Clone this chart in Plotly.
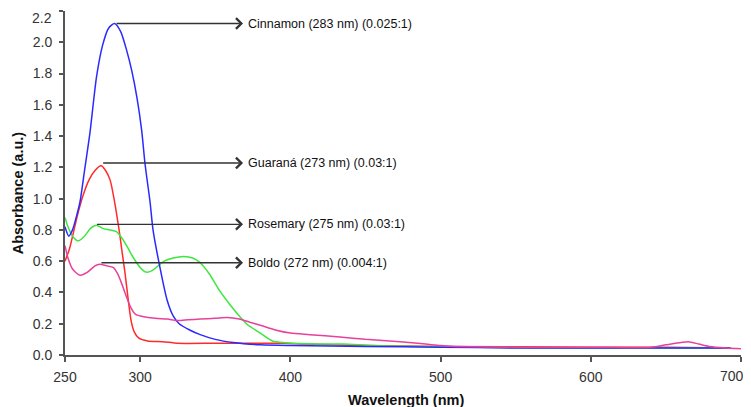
import plotly.graph_objects as go

# ---- data ----
cin_x = [250, 252.5, 255, 258, 260, 263, 266.6, 271, 275, 279, 283, 287, 291, 294.4, 298, 301, 303.3,
         306.6, 308.6, 313, 318, 322, 326, 333, 340, 350, 362, 380, 400, 450, 500, 550, 600, 650, 693]
cin_y = [0.82, 0.76, 0.80, 0.90, 0.98, 1.18, 1.42, 1.78, 1.98, 2.09, 2.12, 2.07, 1.95, 1.82, 1.64, 1.44, 1.22,
         0.98, 0.80, 0.57, 0.35, 0.25, 0.20, 0.16, 0.13, 0.10, 0.08, 0.065, 0.06, 0.055, 0.05, 0.045, 0.045, 0.045, 0.045]

gua_x = [250, 253, 256, 259, 262, 266, 270, 274, 277, 280, 283, 286, 288, 290, 292, 294, 296, 299, 305,
         315, 325, 350, 395, 410, 450, 500, 600, 650, 693]
gua_y = [0.60, 0.68, 0.80, 0.92, 1.02, 1.12, 1.18, 1.21, 1.18, 1.12, 0.98, 0.80, 0.66, 0.52, 0.36, 0.22, 0.15, 0.11, 0.09,
         0.085, 0.075, 0.075, 0.075, 0.07, 0.06, 0.055, 0.05, 0.05, 0.045]

ros_x = [250, 252, 255, 259, 263, 267, 271, 275, 280, 284, 287, 291, 295, 300, 304, 308, 312, 316, 322, 329,
         335, 340, 346, 353, 360, 366, 372, 380, 388, 395, 420, 435, 455, 480, 520, 600, 650, 693]
ros_y = [0.88, 0.82, 0.76, 0.73, 0.76, 0.81, 0.83, 0.81, 0.80, 0.79, 0.76, 0.70, 0.63, 0.56, 0.53, 0.54, 0.57, 0.60, 0.62, 0.63,
         0.62, 0.59, 0.52, 0.41, 0.32, 0.25, 0.19, 0.14, 0.09, 0.08, 0.07, 0.07, 0.06, 0.055, 0.05, 0.045, 0.045, 0.045]

bol_x = [250, 252, 255, 260, 265, 270, 273, 278, 282, 285, 288, 291, 294, 297, 300, 310, 318, 325, 332, 340,
         350, 358, 366, 373, 380, 390, 400, 413, 433, 450, 473, 490, 500, 510, 550, 600, 640, 650, 660, 665,
         672, 679, 690, 700]
bol_y = [0.70, 0.62, 0.55, 0.51, 0.53, 0.57, 0.58, 0.57, 0.56, 0.52, 0.45, 0.37, 0.30, 0.26, 0.25, 0.235, 0.23, 0.22, 0.225, 0.23,
         0.235, 0.24, 0.23, 0.21, 0.19, 0.16, 0.14, 0.13, 0.115, 0.10, 0.085, 0.07, 0.06, 0.055, 0.05, 0.05, 0.05, 0.065, 0.08, 0.085,
         0.07, 0.055, 0.045, 0.04]

# annotation labels: (text, peak x, peak y)
ann_text = ["Cinnamon (283 nm) (0.025:1)", "Guaraná (273 nm) (0.03:1)",
            "Rosemary (275 nm) (0.03:1)", "Boldo (272 nm) (0.004:1)"]
ann_x0 = [283.3, 274.4, 270.3, 273.3]
ann_y = [2.12, 1.228, 0.836, 0.59]
ann_x1 = 368.5
text_x = 370.5

x_ticks = [250, 300, 400, 500, 600, 700]
y_ticks = [0.0, 0.2, 0.4, 0.6, 0.8, 1.0, 1.2, 1.4, 1.6, 1.8, 2.0, 2.2]

fig = go.Figure()
series = [
    (gua_x, gua_y, "#ff2a2a"),
    (ros_x, ros_y, "#3ee63e"),
    (cin_x, cin_y, "#2a2aff"),
    (bol_x, bol_y, "#e8419c"),
]
for xs, ys, c in series:
    fig.add_trace(go.Scatter(x=xs, y=ys, mode="lines",
                             line=dict(color=c, width=1.5, shape="spline", smoothing=0.7),
                             showlegend=False, hoverinfo="skip"))

for t, x0, y in zip(ann_text, ann_x0, ann_y):
    fig.add_annotation(x=ann_x1, y=y, ax=x0, ay=y, xref="x", yref="y", axref="x", ayref="y",
                       showarrow=True, arrowhead=4, arrowsize=1.6, arrowwidth=1.3, arrowcolor="#333333",
                       text="")
    fig.add_annotation(x=text_x, y=y, xref="x", yref="y", text=t, showarrow=False,
                       xanchor="left", yanchor="middle",
                       font=dict(family="Liberation Sans, Arial", size=12.5, color="#111111"))

title_font = dict(family="Liberation Sans, Arial", size=14.5, color="#111111")
fig.add_annotation(x=0.505, y=-0.131, xref="paper", yref="paper", text="<b>Wavelength (nm)</b>",
                   showarrow=False, xanchor="center", yanchor="middle", font=title_font)
fig.add_annotation(x=-0.0695, y=0.47, xref="paper", yref="paper", text="<b>Absorbance (a.u.)</b>",
                   showarrow=False, xanchor="center", yanchor="middle", textangle=-90, font=title_font)

axis_font = dict(family="Liberation Sans, Arial", size=14, color="#333333")
# top y label sits just inside the upper edge, last x label kept inside the window, as in the reference
fig.add_annotation(x=x_ticks[0], y=y_ticks[-1], xref="x", yref="y", text=f"{y_ticks[-1]:.1f}",
                   showarrow=False, xanchor="right", yanchor="middle", xshift=-11, yshift=-7,
                   font=axis_font)
fig.add_annotation(x=x_ticks[-1], y=y_ticks[0], xref="x", yref="y", text=str(x_ticks[-1]),
                   showarrow=False, xanchor="right", yanchor="middle", xshift=5, yshift=-21,
                   font=axis_font)

fig.update_xaxes(range=[250, 700], tickvals=x_ticks,
                 ticktext=[str(v) for v in x_ticks[:-1]] + [""],
                 showgrid=False, zeroline=False, showline=True, linecolor="#555555", linewidth=2,
                 ticks="outside", ticklen=5, tickcolor="#555555", tickwidth=2, tickfont=axis_font,
                 automargin=False, ticklabelstandoff=3)
fig.update_yaxes(range=[0, 2.2], tickvals=y_ticks,
                 ticktext=[f"{v:.1f}" for v in y_ticks[:-1]] + [""],
                 showgrid=False, zeroline=False, showline=True, linecolor="#555555", linewidth=2,
                 ticks="outside", ticklen=4, tickcolor="#555555", tickwidth=1.5, tickfont=axis_font,
                 automargin=False, ticklabelstandoff=4)
# the page body adds an 8 px offset, so the figure is sized to fit the window
fig.update_layout(width=743, height=399, margin=dict(l=57, r=10, t=3, b=52),
                  plot_bgcolor="white", paper_bgcolor="white")
fig.write_html("out.html")
